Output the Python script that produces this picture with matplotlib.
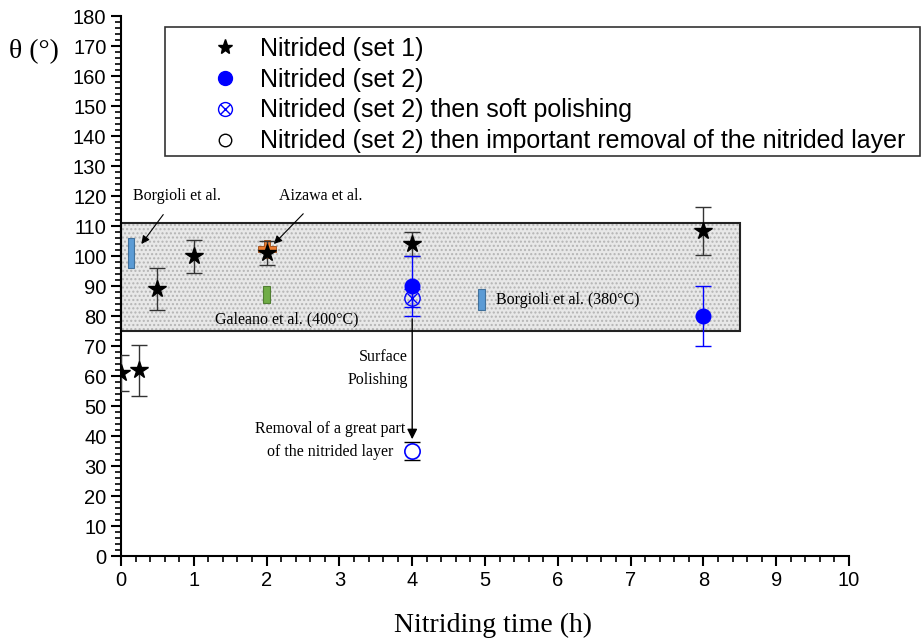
import numpy as np
import matplotlib.pyplot as plt
from matplotlib.patches import Rectangle
from matplotlib.lines import Line2D
from matplotlib.ticker import MultipleLocator

# Nitrided (set 1)
set1_t = [0, 0.25, 0.5, 1, 2, 4, 8]
set1_theta = [61, 62, 89, 100, 101, 104, 108.5]
set1_err = [6, 8.5, 7, 5.5, 4, 4, 8]

# Nitrided (set 2)
set2_t = [4, 8]
set2_theta = [90, 80]
set2_err = [10, 10]

# Nitrided (set 2) then soft polishing
soft_t = [4]
soft_theta = [86]
soft_err = [3]

# Nitrided (set 2) then important removal of the nitrided layer
removal_t = [4]
removal_theta = [35]
removal_err = [3]

# literature ranges (bars)
lit_t = [0.14, 2.0, 4.95]
lit_low = [96, 84.5, 82]
lit_high = [106, 90, 89]
lit_colors = ["#5B9BD5", "#70AD47", "#5B9BD5"]
lit_edges = ["#41719C", "#507E32", "#41719C"]

# Aizawa et al.
aizawa_t = [2]
aizawa_theta = [102.5]

# grey band of literature values
band_t = [0, 8.5]
band_theta = [75, 111]

sans = "Liberation Sans"
serif = "Liberation Serif"

fig = plt.figure(figsize=(9.23, 6.42), dpi=100)
ax = fig.add_axes([121 / 923, 1 - 556 / 642, 728 / 923, 540 / 642])

# shaded band
ax.add_patch(Rectangle((band_t[0], band_theta[0]), band_t[1] - band_t[0],
                       band_theta[1] - band_theta[0], facecolor="#e8e8e8",
                       edgecolor="#b4b4b4", hatch="....", linewidth=0, zorder=0))
ax.add_patch(Rectangle((band_t[0], band_theta[0]), band_t[1] - band_t[0],
                       band_theta[1] - band_theta[0], facecolor="none",
                       edgecolor="#222222", linewidth=1.5, zorder=1, clip_on=False))

# literature bars
ax.bar(lit_t, np.array(lit_high) - np.array(lit_low), bottom=lit_low, width=0.09,
       color=lit_colors, edgecolor=lit_edges, linewidth=0.8, zorder=2)
ax.plot(aizawa_t, aizawa_theta, "P", color="#ED7D31", markeredgecolor="#9c4a14",
        markersize=13, markeredgewidth=0.6, zorder=3)

# data
ax.errorbar(set1_t, set1_theta, yerr=set1_err, fmt="none", ecolor="#333333",
            elinewidth=1, capsize=5.5, zorder=4)
ax.plot(set1_t, set1_theta, "*", color="black", markersize=13, linestyle="none", zorder=5)

ax.errorbar(set2_t, set2_theta, yerr=set2_err, fmt="none", ecolor="blue",
            elinewidth=1, capsize=5.5, zorder=4)
ax.plot(set2_t, set2_theta, "o", color="blue", markersize=10.5, linestyle="none", zorder=5)

ax.errorbar(soft_t, soft_theta, yerr=soft_err, fmt="none", ecolor="blue",
            elinewidth=1, capsize=5.5, zorder=4)
ax.plot(soft_t, soft_theta, "o", markerfacecolor="none", markeredgecolor="blue",
        markersize=11, markeredgewidth=1, linestyle="none", zorder=5)
ax.plot(soft_t, soft_theta, "x", color="blue", markersize=7.5, markeredgewidth=1,
        linestyle="none", zorder=5)

ax.errorbar(removal_t, removal_theta, yerr=removal_err, fmt="none", ecolor="black",
            elinewidth=1, capsize=5.5, zorder=4)
ax.plot(removal_t, removal_theta, "o", markerfacecolor="white", markeredgecolor="blue",
        markeredgewidth=1.2, markersize=11, linestyle="none", zorder=5)

# annotations
ax.annotate("", xy=(4, 38), xytext=(4, 80),
            arrowprops=dict(arrowstyle="-|>", color="black", lw=1, mutation_scale=15))
ax.annotate("Borgioli et al.", xy=(0.28, 104), xytext=(0.77, 120),
            ha="center", va="center", fontsize=11.5, family=serif,
            arrowprops=dict(arrowstyle="-|>", color="black", lw=0.8,
                            shrinkA=7, shrinkB=0, mutation_scale=12))
ax.annotate("Aizawa et al.", xy=(2.1, 104), xytext=(2.74, 120),
            ha="center", va="center", fontsize=11.5, family=serif,
            arrowprops=dict(arrowstyle="-|>", color="black", lw=0.8,
                            shrinkA=7, shrinkB=0, mutation_scale=12))
ax.text(2.28, 79, "Galeano et al. (400°C)", ha="center", va="center",
        fontsize=11.5, family=serif)
ax.text(5.15, 85.3, "Borgioli et al. (380°C)", ha="left", va="center",
        fontsize=11.5, family=serif)
ax.text(3.94, 62.5, "Surface\nPolishing", ha="right", va="center",
        fontsize=11.5, family=serif, linespacing=1.6)
ax.text(2.87, 38.5, "Removal of a great part\nof the nitrided layer", ha="center",
        va="center", fontsize=11.5, family=serif, linespacing=1.6)

# axes styling
ax.set_xlim(0, 10)
ax.set_ylim(0, 180)
ax.xaxis.set_major_locator(MultipleLocator(1))
ax.xaxis.set_minor_locator(MultipleLocator(0.2))
ax.yaxis.set_major_locator(MultipleLocator(10))
ax.yaxis.set_minor_locator(MultipleLocator(2))
for s in ["top", "right"]:
    ax.spines[s].set_visible(False)
for s in ["left", "bottom"]:
    ax.spines[s].set_linewidth(1.5)
ax.tick_params(which="major", direction="out", length=7, width=1.5, labelsize=14.5)
ax.tick_params(which="minor", direction="out", length=4, width=1.2)
for lab in ax.get_xticklabels() + ax.get_yticklabels():
    lab.set_family(sans)

fig.text(493 / 923, 1 - 625 / 642, "Nitriding time (h)", ha="center", va="center",
         fontsize=20, family=serif)
fig.text(9 / 923, 1 - 52 / 642, "θ (°)", ha="left", va="center",
         fontsize=20, family=serif)

# legend
handles = [
    Line2D([], [], marker="*", color="black", linestyle="none", markersize=11),
    Line2D([], [], marker="o", color="blue", linestyle="none", markersize=10),
    (Line2D([], [], marker="o", markerfacecolor="none", markeredgecolor="blue",
            linestyle="none", markersize=10),
     Line2D([], [], marker="x", color="blue", linestyle="none", markersize=6.5)),
    Line2D([], [], marker="o", markerfacecolor="white", markeredgecolor="black",
           linestyle="none", markersize=9),
]
labels = ["Nitrided (set 1)", "Nitrided (set 2)",
          "Nitrided (set 2) then soft polishing",
          "Nitrided (set 2) then important removal of the nitrided layer"]
fig.legend(handles, labels, loc="upper left", bbox_to_anchor=(206 / 923, 1 - 37 / 642),
           frameon=False, borderpad=0, borderaxespad=0, handlelength=1.5,
           handletextpad=0.65, labelspacing=0.27, prop={"family": sans, "size": 18})
fig.patches.append(Rectangle((165 / 923, 1 - 156 / 642), 755 / 923, 129 / 642,
                             transform=fig.transFigure, facecolor="none",
                             edgecolor="#333333", linewidth=1.2))

fig.savefig("out.png", dpi=100)
